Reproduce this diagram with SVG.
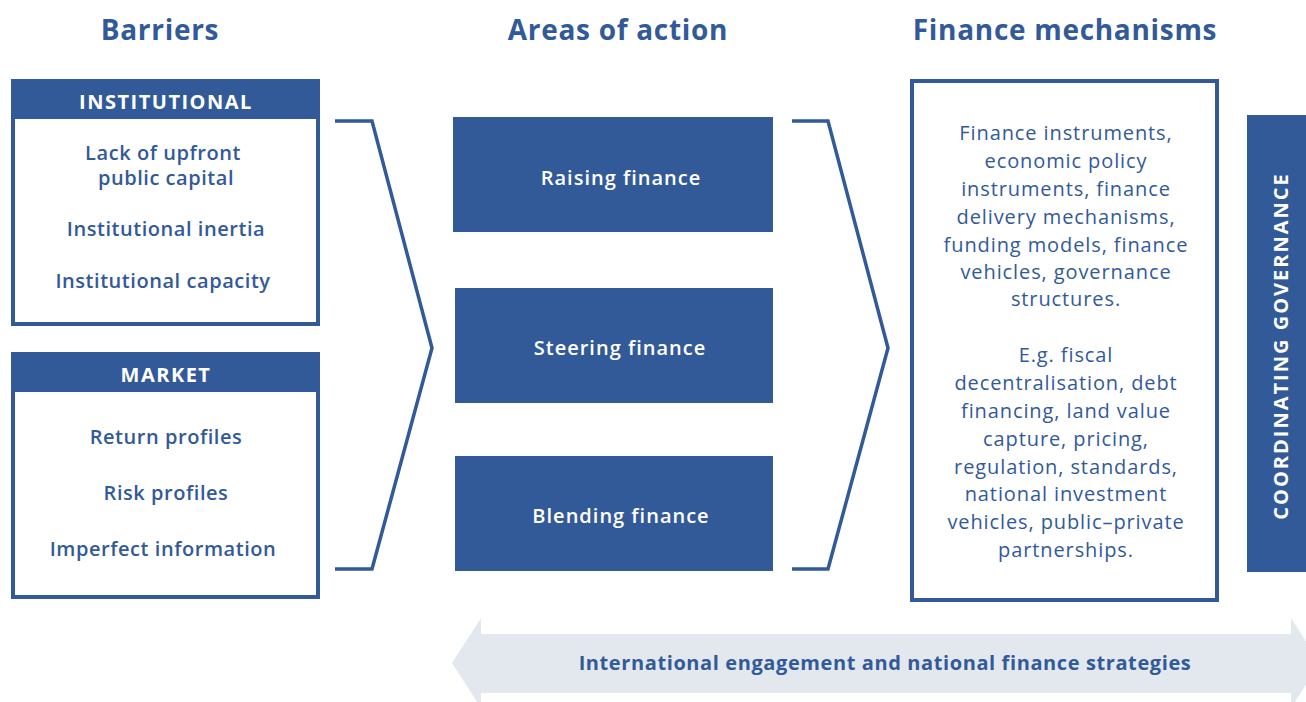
<svg xmlns="http://www.w3.org/2000/svg" width="1306" height="702" viewBox="0 0 1306 702">
<style>
.t{font-family:"Open Sans","Liberation Sans",sans-serif;fill:#325a99;text-anchor:middle}
.h{font-size:28px;font-weight:700;letter-spacing:0.7px}
.hd{font-size:20px;font-weight:700;fill:#fff;letter-spacing:1.5px}
.it{font-size:20px;font-weight:600;letter-spacing:0.55px}
.w{font-size:20px;font-weight:600;fill:#fff;letter-spacing:1px}
.fm{font-size:20px;font-weight:400;letter-spacing:0.9px}
.bt{font-size:20px;font-weight:700;letter-spacing:0.6px}
.cg{font-size:20px;font-weight:700;fill:#fff;letter-spacing:2px}
.box{fill:#fff;stroke:#325a99;stroke-width:4}
.band{fill:#325a99}
.br{fill:none;stroke:#325a99;stroke-width:3.5;stroke-linejoin:miter}
</style>
<rect width="1306" height="702" fill="#fff"/>
<g id="headers">
<text class="t h" x="160" y="40">Barriers</text>
<text class="t h" x="618" y="40">Areas of action</text>
<text class="t h" x="1065" y="40">Finance mechanisms</text>
</g>
<g id="institutional">
<rect class="box" x="13" y="81" width="305" height="243"/>
<rect class="band" x="11" y="79" width="309" height="40"/>
<text class="t hd" x="166" y="109">INSTITUTIONAL</text>
<text class="t it" x="163" y="160">Lack of upfront</text>
<text class="t it" x="166" y="185">public capital</text>
<text class="t it" x="166" y="236">Institutional inertia</text>
<text class="t it" x="163" y="288">Institutional capacity</text>
</g>
<g id="market">
<rect class="box" x="13" y="354" width="305" height="243"/>
<rect class="band" x="11" y="352" width="309" height="40"/>
<text class="t hd" x="166" y="382">MARKET</text>
<text class="t it" x="166" y="444">Return profiles</text>
<text class="t it" x="166" y="500">Risk profiles</text>
<text class="t it" x="163" y="556">Imperfect information</text>
</g>
<g id="connectors">
<polyline class="br" points="335,121 372,121 432,348 372,569 335,569"/>
<polyline class="br" points="792,121 828,121 888,348 828,569 792,569"/>
</g>
<g id="raising">
<rect class="band" x="453" y="117" width="320" height="115"/>
<text class="t w" x="621" y="185">Raising finance</text>
</g>
<g id="steering">
<rect class="band" x="455" y="288" width="318" height="115"/>
<text class="t w" x="620" y="355">Steering finance</text>
</g>
<g id="blending">
<rect class="band" x="455" y="456" width="318" height="115"/>
<text class="t w" x="621" y="523">Blending finance</text>
</g>
<g id="finance-mechanisms">
<rect class="box" x="912" y="81" width="305" height="519"/>
<text class="t fm" x="1066" y="140">Finance instruments,</text>
<text class="t fm" x="1066" y="168">economic policy</text>
<text class="t fm" x="1066" y="196">instruments, finance</text>
<text class="t fm" x="1066" y="224">delivery mechanisms,</text>
<text class="t fm" x="1066" y="252">funding models, finance</text>
<text class="t fm" x="1066" y="279">vehicles, governance</text>
<text class="t fm" x="1066" y="306">structures.</text>
<text class="t fm" x="1066" y="362">E.g. fiscal</text>
<text class="t fm" x="1066" y="390">decentralisation, debt</text>
<text class="t fm" x="1066" y="418">financing, land value</text>
<text class="t fm" x="1066" y="446">capture, pricing,</text>
<text class="t fm" x="1066" y="474">regulation, standards,</text>
<text class="t fm" x="1066" y="501">national investment</text>
<text class="t fm" x="1066" y="529">vehicles, public–private</text>
<text class="t fm" x="1066" y="557">partnerships.</text>
</g>
<g id="coordinating-governance">
<rect class="band" x="1247" y="115" width="59" height="457"/>
<text class="t cg" transform="translate(1288,346) rotate(-90)" x="0" y="0">COORDINATING GOVERNANCE</text>
</g>
<g id="international">
<polygon fill="#e3e8ef" points="452,663 481,618 481,634 1291,634 1291,618 1320,663 1291,708 1291,693 481,693 481,708"/>
<text class="t bt" x="885" y="670">International engagement and national finance strategies</text>
</g>
</svg>
